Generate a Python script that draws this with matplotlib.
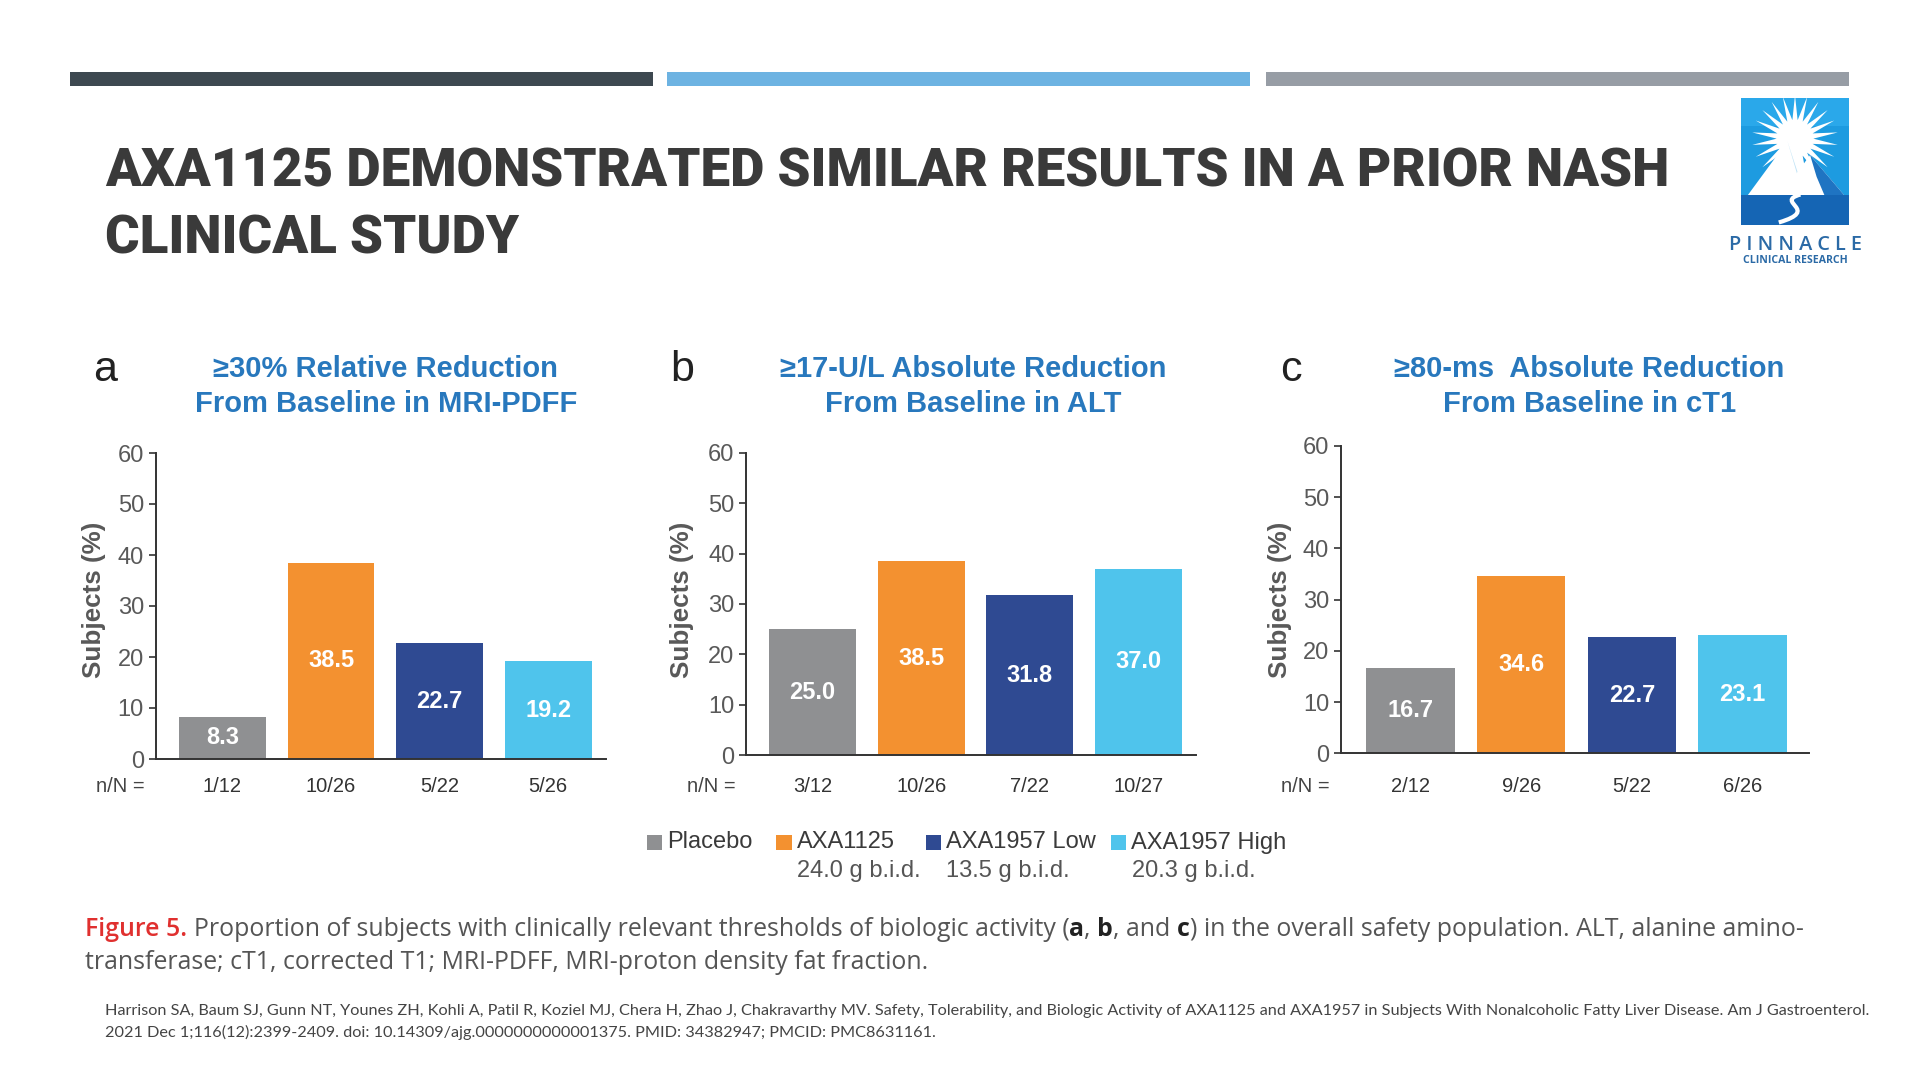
import matplotlib
matplotlib.use("Agg")
import matplotlib.pyplot as plt
from matplotlib.patches import Rectangle, Polygon, Circle, PathPatch
from matplotlib.path import Path
from matplotlib.transforms import blended_transform_factory
import numpy as np

# ---------------- data ----------------
categories = ["Placebo", "AXA1125", "AXA1957 Low", "AXA1957 High"]
doses = ["", "24.0 g b.i.d.", "13.5 g b.i.d.", "20.3 g b.i.d."]
bar_colors = ["#8f9092", "#f39130", "#2f4a92", "#4fc4ec"]

panel_letters = ["a", "b", "c"]
panel_titles = [
    ("\u226530% Relative Reduction", "From Baseline in MRI-PDFF"),
    ("\u226517-U/L Absolute Reduction", "From Baseline in ALT"),
    ("\u226580-ms  Absolute Reduction", "From Baseline in cT1"),
]
pdff_values = [8.3, 38.5, 22.7, 19.2]
pdff_nN = ["1/12", "10/26", "5/22", "5/26"]
alt_values = [25.0, 38.5, 31.8, 37.0]
alt_nN = ["3/12", "10/26", "7/22", "10/27"]
ct1_values = [16.7, 34.6, 22.7, 23.1]
ct1_nN = ["2/12", "9/26", "5/22", "6/26"]
y_ticks = [0, 10, 20, 30, 40, 50, 60]

title_lines = ["AXA1125 DEMONSTRATED SIMILAR RESULTS IN A PRIOR NASH", "CLINICAL STUDY"]
caption_line2 = "transferase; cT1, corrected T1; MRI-PDFF, MRI-proton density fat fraction."
citation_lines = [
    "Harrison SA, Baum SJ, Gunn NT, Younes ZH, Kohli A, Patil R, Koziel MJ, Chera H, Zhao J, Chakravarthy MV. "
    "Safety, Tolerability, and Biologic Activity of AXA1125 and AXA1957 in Subjects With Nonalcoholic Fatty Liver Disease. Am J Gastroenterol.",
    "2021 Dec 1;116(12):2399-2409. doi: 10.14309/ajg.0000000000001375. PMID: 34382947; PMCID: PMC8631161.",
]

# ---------------- figure ----------------
W, H = 1920, 1081
fig = plt.figure(figsize=(W / 100, H / 100), dpi=100)
fig.patch.set_facecolor("white")
renderer = fig.canvas.get_renderer()

ARIAL = ["Liberation Sans", "DejaVu Sans"]


def fx(x):
    return x / W


def fy(y):
    return 1 - y / H


def fit_text(x, y, s, width, **kw):
    t = fig.text(fx(x), fy(y), s, **kw)
    bb = t.get_window_extent(renderer)
    t.set_fontsize(t.get_fontsize() * width / bb.width)
    return t


def text_width(s, size, **kw):
    t = fig.text(0, 0, s, fontsize=size, **kw)
    w = t.get_window_extent(renderer).width
    t.remove()
    return w


def draw_runs(x, y, parts, size):
    arts = []
    cx = x
    for s, kw in parts:
        lead = len(s) - len(s.lstrip(" "))
        trail = len(s) - len(s.rstrip(" "))
        core = s.strip(" ")
        sp = text_width("a a", size, **kw) - text_width("aa", size, **kw)
        cx += lead * sp
        t = fig.text(fx(cx), fy(y), core, fontsize=size, va="baseline", **kw)
        cx += t.get_window_extent(renderer).width + trail * sp
        arts.append(t)
    return arts, cx - x


# ---------------- top decorative bars ----------------
for (x0, x1), c in zip([(70, 653), (667, 1250), (1266, 1849)], ["#3d4850", "#6db3e2", "#979da5"]):
    fig.patches.append(Rectangle((fx(x0), fy(86)), (x1 - x0) / W, 14 / H,
                                 transform=fig.transFigure, color=c, lw=0))

# ---------------- main title ----------------
tfont = dict(family=["Roboto", "DejaVu Sans"], fontweight="black", color="#3a3a3a", va="baseline", fontsize=38)
t1 = fit_text(105, 186, title_lines[0], 1564, **tfont)
fig.text(fx(105), fy(253), title_lines[1], fontsize=t1.get_fontsize(),
         family=tfont["family"], fontweight="black", color="#3a3a3a", va="baseline")

# ---------------- logo ----------------
lax = fig.add_axes([fx(1741), fy(225), 108 / W, 127 / H])
lax.set_xlim(0, 1)
lax.set_ylim(0, 1)
lax.axis("off")
lax.add_patch(Rectangle((0, 0), 1, 1, color="#1d9be0", lw=0))
lax.add_patch(Rectangle((0, 0.78), 1, 0.22, color="#2aa8ea", lw=0))
n = 22
ang = np.linspace(0, 2 * np.pi, 2 * n, endpoint=False) + np.pi / 2
rad = np.where(np.arange(2 * n) % 2 == 0, 0.40, 0.17)
cx0, cy0 = 0.5, 0.68
star = np.column_stack([cx0 + rad * np.cos(ang) * 1.0, cy0 + rad * np.sin(ang) * 0.86])
lax.add_patch(Polygon(star, closed=True, color="white", lw=0))
lax.add_patch(Circle((cx0, cy0), 0.15, color="white", lw=0))
lax.add_patch(Polygon([(0.05, 0.22), (0.43, 0.66), (0.80, 0.22)], color="white", lw=0))
lax.add_patch(Polygon([(0.43, 0.66), (0.52, 0.40), (0.80, 0.22), (0.60, 0.22)], color="#bfe3f6", lw=0))
lax.add_patch(Polygon([(0.35, 0.22), (0.64, 0.55), (0.97, 0.22)], color="white", lw=0))
lax.add_patch(Polygon([(0.64, 0.55), (0.97, 0.22), (0.78, 0.22), (0.70, 0.38)], color="#1f74c2", lw=0))
lax.add_patch(Rectangle((0, 0), 1, 0.24, color="#1565b4", lw=0))
river = Path([(0.55, 0.24), (0.30, 0.18), (0.75, 0.12), (0.35, 0.02)],
             [Path.MOVETO, Path.CURVE4, Path.CURVE4, Path.CURVE4])
lax.add_patch(PathPatch(river, fc="none", ec="white", lw=3))
fit_text(1795.5, 250, "P I N N A C L E", 134, family=["Open Sans", "DejaVu Sans"], fontweight="semibold",
         color="#2b6aa6", ha="center", va="baseline", fontsize=12)
fit_text(1795.5, 263, "CLINICAL RESEARCH", 105, family=["Open Sans", "DejaVu Sans"], fontweight="bold",
         color="#2b6aa6", ha="center", va="baseline", fontsize=6)

# ---------------- panels ----------------
panels = [
    dict(values=pdff_values, nN=pdff_nN, box=(155.7, 605.7, 453, 759), xlim=(-0.615, 3.53),
         letter_x=105, title_x=385.7, ylabel_x=94),
    dict(values=alt_values, nN=alt_nN, box=(746.4, 1195.7, 452.7, 755.3), xlim=(-0.61, 3.53),
         letter_x=682, title_x=973.5, ylabel_x=682),
    dict(values=ct1_values, nN=ct1_nN, box=(1341, 1808.7, 446, 753.3), xlim=(-0.63, 3.6),
         letter_x=1290.6, title_x=1589.4, ylabel_x=1280),
]

for i, p in enumerate(panels):
    x0, x1, ytop, ybot = p["box"]
    ax = fig.add_axes([fx(x0), fy(ybot), (x1 - x0) / W, (ybot - ytop) / H])
    ax.set_facecolor("none")
    xs = np.arange(len(categories))
    ax.bar(xs, p["values"], width=0.8, color=bar_colors, lw=0)
    for xi, v in zip(xs, p["values"]):
        ax.text(xi, v / 2, f"{v:.1f}", ha="center", va="center", color="white",
                fontweight="bold", fontsize=17, family=ARIAL)
    ax.set_xlim(*p["xlim"])
    ax.set_ylim(0, 60)
    ax.set_yticks(y_ticks)
    ax.set_yticklabels([str(t) for t in y_ticks], family=ARIAL, fontsize=17, color="#595959")
    ax.set_xticks([])
    ax.tick_params(axis="y", length=5, width=1.2, color="#333333", pad=3.5)
    for s in ["top", "right"]:
        ax.spines[s].set_visible(False)
    for s in ["left", "bottom"]:
        ax.spines[s].set_color("#333333")
        ax.spines[s].set_linewidth(1.4)
    # n/N labels
    tr = blended_transform_factory(ax.transData, fig.transFigure)
    for xi, lab in zip(xs, p["nN"]):
        ax.text(xi, fy(787), lab, transform=tr, ha="center", va="center", fontsize=14.5,
                family=ARIAL, color="#333333")
    fig.text(fx(x0 - 11), fy(787), "n/N =", ha="right", va="center", fontsize=14.5,
             family=ARIAL, color="#444444")
    # y label
    fig.text(fx(p["ylabel_x"]), fy(600), "Subjects (%)", rotation=90, ha="center", va="center",
             fontsize=18.7, fontweight="bold", family=ARIAL, color="#595959")
    # panel letter
    fig.text(fx(p["letter_x"]), fy(381.5), panel_letters[i], ha="center", va="baseline",
             fontsize=31, family=ARIAL, color="#222222")
    # panel title
    l1, l2 = panel_titles[i]
    fig.text(fx(p["title_x"]), fy(368.6), l1, ha="center", va="center", fontsize=21,
             fontweight="bold", family=ARIAL, color="#2878bd")
    fig.text(fx(p["title_x"]), fy(404), l2, ha="center", va="center", fontsize=21,
             fontweight="bold", family=ARIAL, color="#2878bd")

# ---------------- legend (drawn manually: swatch aligned with first text line) ----------------
sw_x = [646.5, 776.3, 925.7, 1110.6]
tx_x = [667.4, 797.2, 946.5, 1131.4]
dose_x = [None, 797.2, 946.5, 1132.5]
for k in range(len(categories)):
    fig.patches.append(Rectangle((fx(sw_x[k]), fy(850)), 15.5 / W, 15.5 / H,
                                 transform=fig.transFigure, color=bar_colors[k], lw=0))
    fig.text(fx(tx_x[k]), fy(842.5), categories[k], ha="left", va="center", fontsize=17,
             family=ARIAL, color="#3a3a3a")
    if doses[k]:
        fig.text(fx(dose_x[k]), fy(871), doses[k], ha="left", va="center", fontsize=17,
                 family=ARIAL, color="#555555")

# ---------------- caption ----------------
cap_font = dict(family=["Open Sans", "DejaVu Sans"], color="#555555")
cap_bold = dict(family=["Open Sans", "DejaVu Sans"], color="#222222", fontweight="bold")
cap_red = dict(family=["Open Sans", "DejaVu Sans"], color="#e0302f", fontweight="semibold")
parts = [
    ("Figure 5.", cap_red),
    (" Proportion of subjects with clinically relevant thresholds of biologic activity (", cap_font),
    ("a", cap_bold), (", ", cap_font), ("b", cap_bold), (", and ", cap_font), ("c", cap_bold),
    (") in the overall safety population. ALT, alanine amino-", cap_font),
]
arts, w = draw_runs(85, 936, parts, 16)
for a in arts:
    a.remove()
cap_size = 16 * (1806 - 85) / w
draw_runs(85, 936, parts, cap_size)
fig.text(fx(85), fy(969), caption_line2, fontsize=cap_size, va="baseline", **cap_font)

# ---------------- citation ----------------
c1 = fit_text(105, 1015, citation_lines[0], 1767, family=["Lato", "DejaVu Sans"], color="#444444",
              va="baseline", fontsize=10)
fig.text(fx(105), fy(1037), citation_lines[1], fontsize=c1.get_fontsize(),
         family=["Lato", "DejaVu Sans"], color="#444444", va="baseline")

fig.savefig("out.png", dpi=100, facecolor="white")
